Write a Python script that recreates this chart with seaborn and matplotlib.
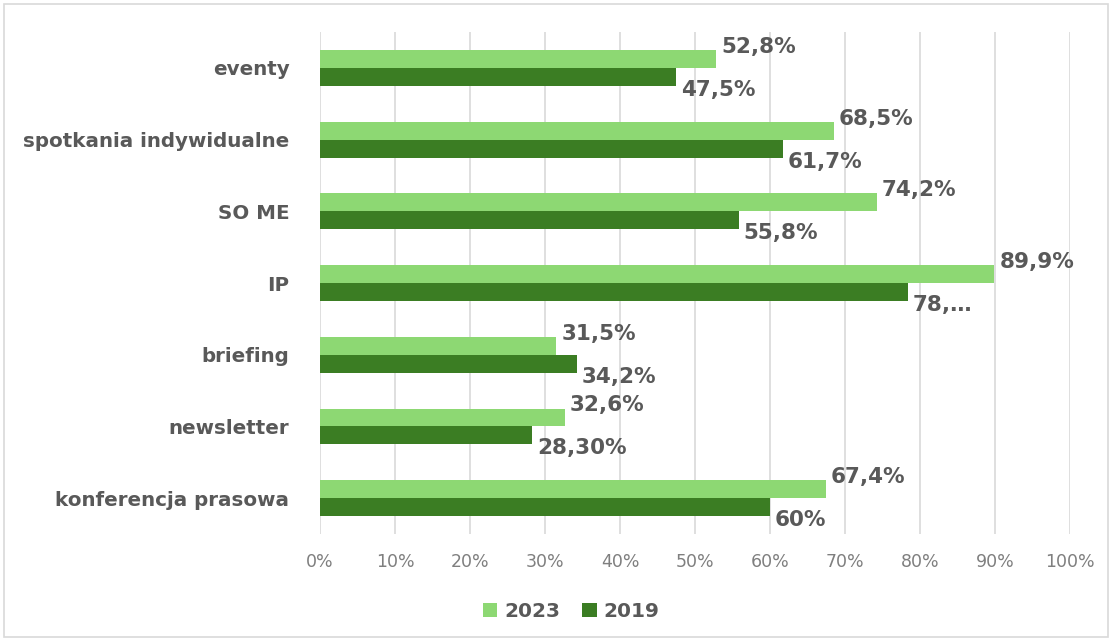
import matplotlib
matplotlib.use("Agg")
import matplotlib.pyplot as plt
import seaborn as sns
import pandas as pd
from matplotlib.patches import Rectangle

categories = ["eventy", "spotkania indywidualne", "SO ME", "IP",
              "briefing", "newsletter", "konferencja prasowa"]
values_2023 = [52.8, 68.5, 74.2, 89.9, 31.5, 32.6, 67.4]
values_2019 = [47.5, 61.7, 55.8, 78.4, 34.2, 28.3, 60.0]
labels_2023 = ["52,8%", "68,5%", "74,2%", "89,9%", "31,5%", "32,6%", "67,4%"]
labels_2019 = ["47,5%", "61,7%", "55,8%", "78,…", "34,2%", "28,30%", "60%"]
series = ["2023", "2019"]
x_ticks = list(range(0, 101, 10))

sns.set_theme(style="white")
plt.rcParams["font.family"] = ["DejaVu Sans"]

df = pd.DataFrame({
    "kategoria": categories * 2,
    "wartosc": values_2023 + values_2019,
    "rok": [series[0]] * len(categories) + [series[1]] * len(categories),
})

light, dark = "#8dd873", "#3b7d23"
text_col = "#595959"

fig = plt.figure(figsize=(11.12, 6.4), dpi=100)
ax = fig.add_axes([0.2878, 0.1656, 0.6745, 0.7844])

sns.barplot(data=df, y="kategoria", x="wartosc", hue="rok", orient="h",
            order=categories, hue_order=series, palette=[light, dark],
            width=0.5, saturation=1, linewidth=0, ax=ax, legend=True)

ax.set_xlim(0, 100)
ax.set_xticks(x_ticks)
ax.set_xticklabels([f"{t}%" for t in x_ticks], color="#7f7f7f", fontsize=12.5)
ax.grid(axis="x", color="#d9d9d9", linewidth=1.2)
ax.set_axisbelow(True)
ax.tick_params(axis="x", length=0, pad=14)
ax.tick_params(axis="y", length=0, pad=22)
for lbl in ax.get_yticklabels():
    lbl.set_fontweight("bold")
    lbl.set_fontsize(14.3)
    lbl.set_color(text_col)
for s in ax.spines.values():
    s.set_visible(False)
ax.set_xlabel("")
ax.set_ylabel("")

# value labels next to bar ends
for container, labels, dy in zip(ax.containers, [labels_2023, labels_2019], [12, -13]):
    for bar, txt in zip(container, labels):
        x_end = bar.get_x() + bar.get_width()
        y_mid = bar.get_y() + bar.get_height() / 2
        ax.annotate(txt, (x_end, y_mid), xytext=(5, dy), textcoords="offset pixels",
                    ha="left", va="center", fontsize=15.5, fontweight="bold",
                    color=text_col, annotation_clip=False)

ax.legend(loc="upper center", bbox_to_anchor=(0.335, -0.10), ncol=2, frameon=False,
          prop={"weight": "bold", "size": 14.5}, handlelength=0.7, handleheight=0.7,
          handletextpad=0.35, columnspacing=1.1, labelcolor=text_col)

fig.patches.append(Rectangle((0.004, 0.004), 0.992, 0.99, transform=fig.transFigure,
                             fill=False, edgecolor="#d9d9d9", linewidth=1.2))

fig.savefig("out.png", dpi=100)
